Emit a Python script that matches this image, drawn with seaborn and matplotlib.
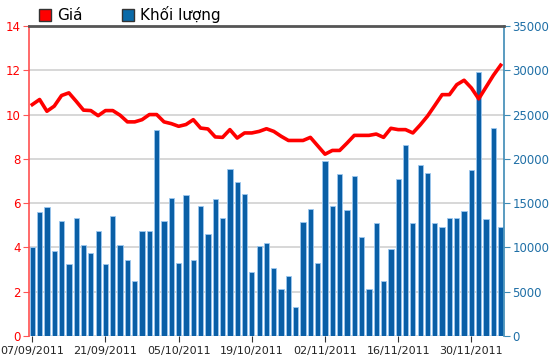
import numpy as np
import pandas as pd
import matplotlib
matplotlib.use('Agg')
import matplotlib.pyplot as plt
import seaborn as sns
from matplotlib.patches import Patch

# trading days from 07/09/2011
dates = pd.bdate_range('2011-09-07', periods=65)
labels = [d.strftime('%d/%m/%Y') for d in dates]

price = [10.45, 10.68, 10.15, 10.38, 10.86, 10.98, 10.6, 10.2, 10.18, 9.95,
         10.18, 10.18, 9.97, 9.67, 9.67, 9.77, 10.0, 10.0, 9.67, 9.59,
         9.47, 9.55, 9.77, 9.39, 9.35, 8.99, 8.97, 9.32, 8.94, 9.17,
         9.17, 9.24, 9.36, 9.24, 9.02, 8.83, 8.83, 8.83, 8.97, 8.59,
         8.21, 8.38, 8.38, 8.71, 9.06, 9.06, 9.06, 9.12, 8.97, 9.38,
         9.32, 9.32, 9.17, 9.53, 9.93, 10.41, 10.9, 10.9, 11.35, 11.55,
         11.2, 10.71, 11.24, 11.77, 12.23]

volume = [10100, 14000, 14600, 9600, 13000, 8100, 13300, 10300, 9350, 11900,
          8100, 13600, 10300, 8600, 6200, 11800, 11900, 23300, 13000, 15600,
          8200, 15900, 8600, 14700, 11500, 15500, 13300, 18900, 17400, 16000,
          7200, 10200, 10500, 7700, 5300, 6800, 3300, 12900, 14300, 8200,
          19800, 14700, 18300, 14200, 18100, 11200, 5300, 12800, 6200, 9800,
          17700, 21600, 12800, 19300, 18400, 12800, 12300, 13300, 13300, 14100,
          18700, 29800, 13200, 23500, 12300]

df = pd.DataFrame({'date': labels, 'pos': np.arange(len(labels)),
                   'price': price, 'volume': volume})

red = '#ff0000'
blue = '#0a5fa6'
axis_blue = '#3d8ab5'

fig = plt.figure(figsize=(5.5, 3.64), dpi=100)
ax_v = fig.add_axes([0.0527, 0.0769, 0.8636, 0.8517])
ax_p = ax_v.twinx()

sns.barplot(data=df, x='date', y='volume', ax=ax_v, color=blue,
            edgecolor='#9cc8ef', linewidth=0.6, width=0.72, saturation=1)
sns.lineplot(data=df, x='pos', y='price', ax=ax_p, color=red, linewidth=2.6)

ax_v.set_xlim(-0.45, 64.45)
ax_v.set_ylim(0, 35000)
ax_p.set_ylim(0, 14)
ax_v.set_yticks(np.arange(0, 35001, 5000))
ax_p.set_yticks(np.arange(0, 15, 2))

ax_v.set_axisbelow(True)
ax_v.yaxis.grid(True, color='#d4d4d4', linewidth=1.3)
ax_v.xaxis.grid(False)

# volume axis on right, price axis on left
ax_v.yaxis.tick_right()
ax_p.yaxis.tick_left()
ax_v.set_xlabel('')
ax_v.set_ylabel('')
ax_p.set_ylabel('')

ax_v.set_xticks(np.arange(0, 65, 10))
ax_v.set_xticklabels(labels[::10], fontsize=8, color='#222222')
ax_v.tick_params(axis='x', length=4, color='#333333', pad=3)
ax_v.tick_params(axis='y', colors=axis_blue, labelcolor='#1f6fa6', labelsize=8.5,
                 length=4, pad=2)
ax_p.tick_params(axis='y', colors='#ff5555', labelcolor=red, labelsize=8.5,
                 length=4, pad=2)

for s in ['left', 'right', 'bottom', 'top']:
    ax_v.spines[s].set_visible(False)
    ax_p.spines[s].set_visible(False)
ax_p.spines['left'].set_visible(True)
ax_p.spines['left'].set_color('#ff5050')
ax_p.spines['left'].set_linewidth(1.2)
ax_p.spines['right'].set_visible(True)
ax_p.spines['right'].set_color(axis_blue)
ax_p.spines['right'].set_linewidth(1.2)
ax_p.spines['top'].set_visible(True)
ax_p.spines['top'].set_color('#555555')
ax_p.spines['top'].set_linewidth(2)

handles = [Patch(facecolor=red, edgecolor='#333333', label='Giá'),
           Patch(facecolor='#0a6aa8', edgecolor='#333333', label='Khối lượng')]
fig.legend(handles=handles, loc='upper left', bbox_to_anchor=(0.045, 1.02),
           ncol=2, frameon=False, fontsize=11, handlelength=0.8,
           handleheight=0.8, handletextpad=0.4, columnspacing=2.6)

fig.savefig('out.png', dpi=100)
